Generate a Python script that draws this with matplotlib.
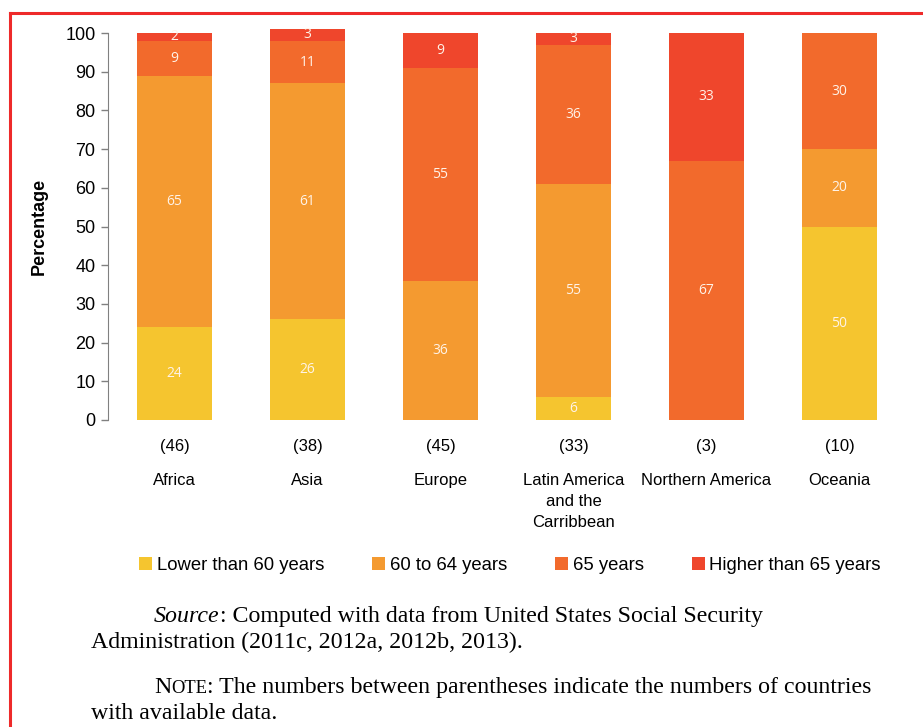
import matplotlib
matplotlib.use("Agg")
import matplotlib.pyplot as plt
from matplotlib.lines import Line2D
import numpy as np

regions = ["Africa", "Asia", "Europe", "Latin America\nand the\nCarribbean", "Northern America", "Oceania"]
counts = ["(46)", "(38)", "(45)", "(33)", "(3)", "(10)"]
series_names = ["Lower than 60 years", "60 to 64 years", "65 years", "Higher than 65 years"]
lower60 = [24, 26, 0, 6, 0, 50]
age60_64 = [65, 61, 36, 55, 0, 20]
age65 = [9, 11, 55, 36, 67, 30]
higher65 = [2, 3, 9, 3, 33, 0]
colors = ["#F5C52F", "#F49A30", "#F26A2C", "#EF462C"]

W, H = 923, 727
fig = plt.figure(figsize=(W / 100, H / 100), dpi=100)
ax = fig.add_axes([108 / W, (H - 420) / H, 798 / W, 387 / H])

x = np.arange(len(regions))
bottom = np.zeros(len(regions))
handles = []
for vals, name, col in zip([lower60, age60_64, age65, higher65], series_names, colors):
    vals = np.array(vals, dtype=float)
    bars = ax.bar(x, vals, 0.56, bottom=bottom, color=col, label=name, clip_on=False)
    handles.append(bars)
    for xi, v, b in zip(x, vals, bottom):
        if v > 0:
            ax.text(xi, b + v / 2, f"{int(v)}", ha="center", va="center",
                    color="#FFF3E8", fontsize=10, family="Open Sans")
    bottom += vals

ax.set_xlim(-0.5, len(regions) - 0.5)
ax.set_ylim(0, 100)
ax.set_yticks(range(0, 101, 10))
ax.tick_params(axis="y", labelsize=13, color="#808080", length=5, width=1, direction="out", pad=4)
for lbl in ax.get_yticklabels():
    lbl.set_family("Liberation Sans")
ax.set_xticks(x)
ax.set_xticklabels(counts, family="Liberation Sans", fontsize=12)
ax.tick_params(axis="x", length=0, pad=14)
for s in ["top", "right", "bottom"]:
    ax.spines[s].set_visible(False)
ax.spines["left"].set_color("#808080")
ax.set_ylabel("Percentage", fontsize=13, fontweight="bold", family="Liberation Sans")
ax.yaxis.set_label_coords(-60 / 798, 0.5)

trans = ax.get_xaxis_transform()
for xi, name in zip(x, regions):
    ax.text(xi, -53 / 387, name, transform=trans, ha="center", va="top",
            fontsize=12, family="Liberation Sans", linespacing=1.49)

leg = fig.legend(handles=handles, labels=series_names, loc="center", ncol=4,
                 bbox_to_anchor=(510 / W, (H - 565) / H), frameon=False,
                 prop={"family": "Liberation Sans", "size": 13.3},
                 handlelength=0.7, handleheight=0.7, handletextpad=0.25,
                 columnspacing=2.6, borderaxespad=0)

# red border
fig.add_artist(Line2D([10 / W, 10 / W], [0, (H - 13) / H], color="#EE2A2A", lw=2.2, transform=fig.transFigure))
fig.add_artist(Line2D([10 / W, 1], [(H - 13) / H, (H - 13) / H], color="#EE2A2A", lw=2.2, transform=fig.transFigure))

fs = 17.2
serif = "Liberation Serif"
renderer = fig.canvas.get_renderer()

def seq(parts, x0, y):
    xp = x0
    for txt, kw in parts:
        t = fig.text(xp / W, (H - y) / H, txt, va="baseline", ha="left", family=serif, **kw)
        bb = t.get_window_extent(renderer=renderer)
        xp = bb.x1

seq([("Source", {"fontsize": fs, "style": "italic"}),
     (": Computed with data from United States Social Security", {"fontsize": fs})], 154, 622)
seq([("Administration (2011c, 2012a, 2012b, 2013).", {"fontsize": fs})], 91, 648)
seq([("N", {"fontsize": fs}), ("OTE", {"fontsize": fs * 0.78}),
     (": The numbers between parentheses indicate the numbers of countries", {"fontsize": fs})], 154, 693)
seq([("with available data.", {"fontsize": fs})], 91, 719)

fig.savefig("out.png", dpi=100)
